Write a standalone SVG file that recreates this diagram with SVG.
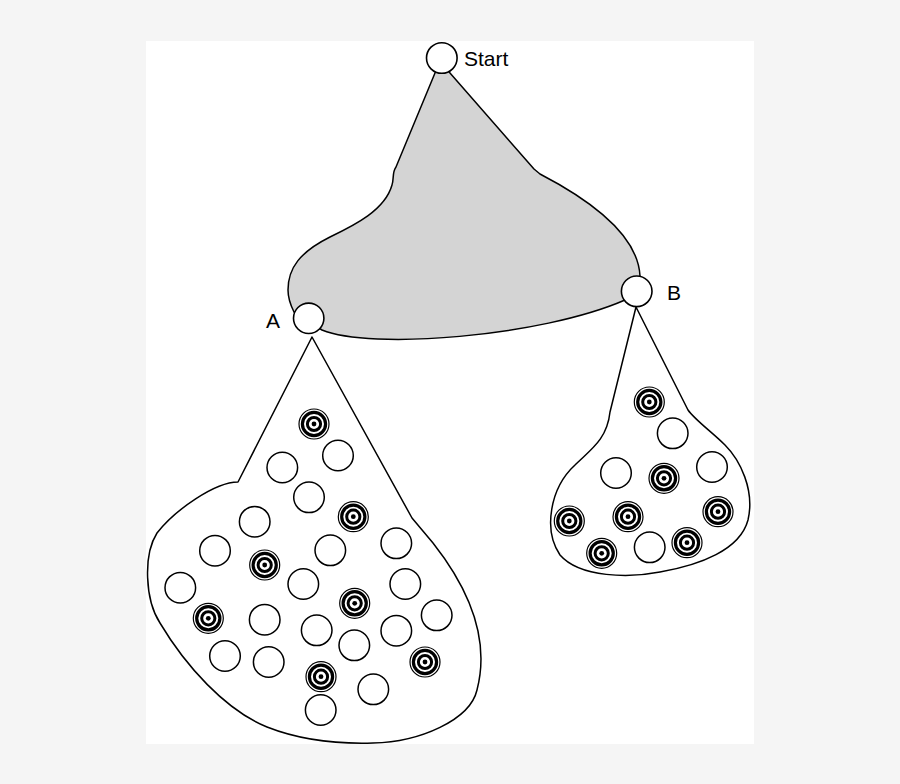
<svg xmlns="http://www.w3.org/2000/svg" xmlns:xlink="http://www.w3.org/1999/xlink" width="900" height="784" viewBox="0 0 900 784">
<style>
.outline{fill:#fff;stroke:#000;stroke-width:1.5;stroke-linejoin:round}
.shade{fill:#d4d4d4;stroke:#000;stroke-width:1.5;stroke-linejoin:round}
.node{fill:#fff;stroke:#000;stroke-width:1.6}
.plain{fill:#fff;stroke:#000;stroke-width:1.5}
.label{font-family:"Liberation Sans",Arial,sans-serif;font-size:21px;fill:#000}
</style>
<defs>
<g id="target">
<circle r="15" fill="#fff" stroke="#000" stroke-width="1.2"/>
<circle r="11.6" fill="none" stroke="#000" stroke-width="3.2"/>
<circle r="6.6" fill="none" stroke="#000" stroke-width="3"/>
<circle r="2.4" fill="#000"/>
</g>
<circle id="plain" class="plain" r="15.3"/>
</defs>
<rect x="0" y="0" width="900" height="784" fill="#f5f5f5"/>
<rect x="146" y="41" width="608" height="703" fill="#fff"/>

<g id="connectors">
<path id="region-start" class="shade" d="M441,58 L435,73 L396,167 C392,172 394,180 392,185 C385,210 355,225 330,237 C300,252 288,268 288,290 C288,300 291,306 294,312 L322,330 C370,350 540,337 625,300 L640,276 C638,235 590,200 540,174 L534,169 L450,73 Z"/>
</g>

<g id="cluster-A">
<path class="outline" d="M312,337 L238,482 C215,482 175,510 157,533 C143,555 145,600 160,623 C185,665 225,710 267,727 C300,740 340,744 373,743 C420,742 470,720 477,690 C490,640 470,590 433,543 L412,518 Z"/>
<use xlink:href="#target" x="314" y="424"/>
<use xlink:href="#plain" x="338" y="455.5"/>
<use xlink:href="#plain" x="282.3" y="467.5"/>
<use xlink:href="#plain" x="309" y="497.3"/>
<use xlink:href="#target" x="353.3" y="516.7"/>
<use xlink:href="#plain" x="254.7" y="521.7"/>
<use xlink:href="#plain" x="396.3" y="543.3"/>
<use xlink:href="#plain" x="215" y="550.7"/>
<use xlink:href="#plain" x="330.3" y="550.3"/>
<use xlink:href="#target" x="264.7" y="565"/>
<use xlink:href="#plain" x="303.3" y="584"/>
<use xlink:href="#plain" x="405.3" y="584"/>
<use xlink:href="#plain" x="180.3" y="587.7"/>
<use xlink:href="#target" x="354.7" y="603.3"/>
<use xlink:href="#plain" x="436.7" y="615.3"/>
<use xlink:href="#target" x="208.3" y="618.3"/>
<use xlink:href="#plain" x="264.7" y="619.7"/>
<use xlink:href="#plain" x="316.7" y="630.3"/>
<use xlink:href="#plain" x="396.3" y="630.7"/>
<use xlink:href="#plain" x="354.3" y="645.3"/>
<use xlink:href="#plain" x="225" y="656"/>
<use xlink:href="#plain" x="268.7" y="662"/>
<use xlink:href="#target" x="425" y="662"/>
<use xlink:href="#target" x="321" y="676.7"/>
<use xlink:href="#plain" x="373.3" y="689.3"/>
<use xlink:href="#plain" x="320.7" y="710"/>
</g>

<g id="cluster-B">
<path class="outline" d="M636,307 L610,412 C607,440 590,450 575,465 C550,488 543,530 560,555 C580,578 630,578 660,572 C700,565 740,550 748,520 C755,490 740,460 725,445 C712,432 695,420 688,410 Z"/>
<use xlink:href="#target" x="649.3" y="402"/>
<use xlink:href="#plain" x="672.7" y="433.3"/>
<use xlink:href="#plain" x="616" y="473"/>
<use xlink:href="#plain" x="712" y="467"/>
<use xlink:href="#target" x="664" y="478.3"/>
<use xlink:href="#target" x="569.3" y="521"/>
<use xlink:href="#target" x="628" y="516.7"/>
<use xlink:href="#target" x="718" y="511.7"/>
<use xlink:href="#target" x="601.7" y="553.3"/>
<use xlink:href="#plain" x="649.7" y="547.3"/>
<use xlink:href="#target" x="687" y="542.7"/>
</g>

<g id="node-start">
<circle class="node" cx="441.8" cy="58" r="15.3"/>
<text class="label" x="464" y="66">Start</text>
</g>
<g id="node-a">
<circle class="node" cx="308.7" cy="318.3" r="15.2"/>
<text class="label" x="266" y="328">A</text>
</g>
<g id="node-b">
<circle class="node" cx="636.7" cy="291.3" r="15.3"/>
<text class="label" x="667" y="300">B</text>
</g>
</svg>
